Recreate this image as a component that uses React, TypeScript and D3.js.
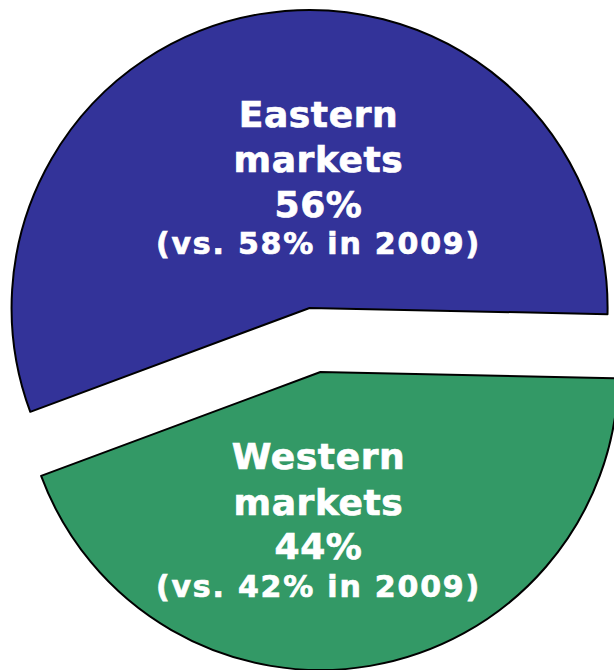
import React from "react";
import * as d3 from "d3";

const categories = ["Eastern markets", "Western markets"];
const shares = [56, 44];
const previous = [58, 42];
const prevYear = "2009";
const colors = ["#333399", "#339966"];

const W = 614;
const H = 670;

export default function App() {
  const cx = 315;
  const cy = 340;
  const r = 298;
  const explode = 32.5;
  const labelFactor = [0.4, 0.535];
  const startDeg = -110.4;

  const pie = d3
    .pie<number>()
    .sort(null)
    .startAngle((startDeg * Math.PI) / 180)
    .endAngle(((startDeg + 360) * Math.PI) / 180);
  const arcs = pie(shares);
  const arcGen = d3.arc<d3.PieArcDatum<number>>().innerRadius(0).outerRadius(r);

  return (
    <svg
      width={W}
      height={H}
      style={{ position: "absolute", left: 0, top: 0, background: "#fff" }}
    >
      {arcs.map((a, i) => {
        const mid = (a.startAngle + a.endAngle) / 2;
        const ox = Math.sin(mid) * explode;
        const oy = -Math.cos(mid) * explode;
        const sx = cx + ox;
        const sy = cy + oy;
        const dir = i === 0 ? -1 : 1;
        const lx = cx + 3.5;
        const ly = sy + dir * labelFactor[i] * r;
        const firstBase = ly - 62;
        const name = categories[i].split(" ");
        return (
          <g key={categories[i]}>
            <path
              d={arcGen(a) || ""}
              transform={`translate(${sx},${sy})`}
              fill={colors[i]}
              stroke="#000"
              strokeWidth={2}
              strokeLinejoin="round"
            />
            <g
              fill="#fff"
              stroke="#fff"
              strokeWidth={0.7}
              fontFamily="'DejaVu Sans', Verdana, sans-serif"
              fontWeight="bold"
              textAnchor="middle"
            >
              <text x={lx} y={firstBase} fontSize={36} letterSpacing={0.6}>
                {name[0]}
              </text>
              <text x={lx} y={firstBase + 45.5} fontSize={36} letterSpacing={0.6}>
                {name[1]}
              </text>
              <text x={lx} y={firstBase + 90} fontSize={36} letterSpacing={0.6}>
                {shares[i]}%
              </text>
              <text x={lx} y={firstBase + 127.5} fontSize={30} letterSpacing={1.8}>
                {`(vs. ${previous[i]}% in ${prevYear})`}
              </text>
            </g>
          </g>
        );
      })}
    </svg>
  );
}
